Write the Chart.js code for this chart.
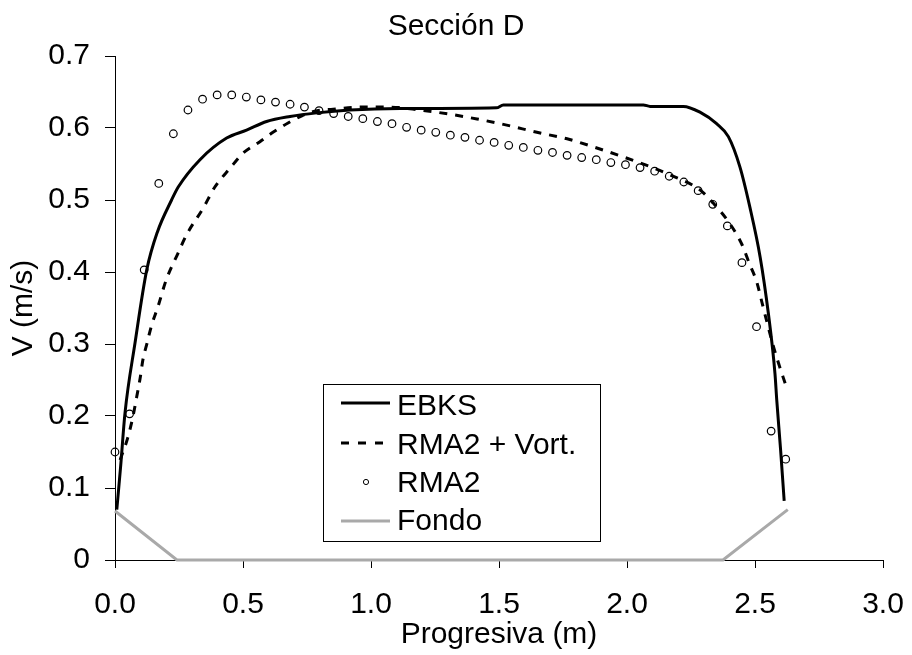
<!DOCTYPE html>
<html>
<head>
<meta charset="utf-8">
<script src="https://cdn.jsdelivr.net/npm/chart.js@4.4.1/dist/chart.umd.min.js"></script>
<style>
  html, body { margin: 0; padding: 0; background: #ffffff; }
  #wrap { width: 912px; height: 655px; }
</style>
</head>
<body>
<div id="wrap"><canvas id="c" width="912" height="655"></canvas></div>
<script>
// ---- Data ----
const chartTitle = 'Sección D';
const xAxisTitle = 'Progresiva (m)';
const yAxisTitle = 'V (m/s)';
const seriesNames = ['EBKS', 'RMA2 + Vort.', 'RMA2', 'Fondo'];

const xTicks = [0.0, 0.5, 1.0, 1.5, 2.0, 2.5, 3.0];
const yTicks = [0, 0.1, 0.2, 0.3, 0.4, 0.5, 0.6, 0.7];

// EBKS (solid line)
const ebksX = [0.007, 0.022, 0.039, 0.078, 0.124, 0.165, 0.221, 0.247, 0.332, 0.436, 0.514, 0.592, 0.684, 0.788, 0.918, 1.113, 1.49, 1.517, 2.064, 2.09, 2.22, 2.285, 2.35, 2.396, 2.441, 2.48, 2.52, 2.552, 2.578, 2.585, 2.60, 2.614];
const ebksV = [0.070, 0.130, 0.204, 0.301, 0.403, 0.455, 0.500, 0.518, 0.556, 0.586, 0.597, 0.609, 0.616, 0.621, 0.625, 0.627, 0.628, 0.632, 0.632, 0.630, 0.630, 0.622, 0.606, 0.588, 0.546, 0.490, 0.421, 0.343, 0.259, 0.222, 0.153, 0.082];

// RMA2 + Vort. (dashed line)
const vortX = [0.02, 0.05, 0.07, 0.085, 0.098, 0.109, 0.125, 0.143, 0.168, 0.2, 0.246, 0.28, 0.345, 0.39, 0.449, 0.5, 0.566, 0.617, 0.676, 0.73, 0.789, 0.852, 0.957, 1.074, 1.19, 1.31, 1.414, 1.53, 1.648, 1.766, 1.867, 1.984, 2.10, 2.168, 2.285, 2.336, 2.40, 2.45, 2.477, 2.507, 2.527, 2.547, 2.57, 2.594, 2.62];
const vortV = [0.139, 0.17, 0.199, 0.227, 0.252, 0.278, 0.301, 0.326, 0.352, 0.389, 0.426, 0.452, 0.489, 0.518, 0.544, 0.565, 0.581, 0.594, 0.607, 0.617, 0.624, 0.626, 0.629, 0.629, 0.625, 0.619, 0.6125, 0.604, 0.594, 0.585, 0.574, 0.56, 0.545, 0.535, 0.514, 0.496, 0.468, 0.4375, 0.4125, 0.386, 0.358, 0.33, 0.299, 0.271, 0.243];

// RMA2 (hollow circles)
const rma2X = [0, 0.057, 0.114, 0.171, 0.228, 0.285, 0.342, 0.399, 0.456, 0.513, 0.570, 0.627, 0.684, 0.740, 0.797, 0.854, 0.911, 0.968, 1.025, 1.082, 1.139, 1.196, 1.253, 1.310, 1.367, 1.424, 1.481, 1.538, 1.595, 1.652, 1.709, 1.766, 1.823, 1.880, 1.937, 1.994, 2.051, 2.108, 2.165, 2.222, 2.278, 2.335, 2.392, 2.449, 2.506, 2.563, 2.620];
const rma2V = [0.150, 0.203, 0.403, 0.523, 0.592, 0.625, 0.640, 0.646, 0.646, 0.643, 0.639, 0.636, 0.633, 0.629, 0.624, 0.620, 0.616, 0.613, 0.609, 0.606, 0.601, 0.597, 0.594, 0.590, 0.587, 0.583, 0.580, 0.576, 0.573, 0.569, 0.566, 0.562, 0.559, 0.556, 0.552, 0.549, 0.545, 0.540, 0.533, 0.525, 0.513, 0.494, 0.464, 0.413, 0.324, 0.179, 0.140];

// Fondo (grey bed line)
const fondoX = [0, 0.242, 2.375, 2.628];
const fondoV = [0.068, 0, 0, 0.070];

// ---- Build chart ----
const pts = (xs, ys) => xs.map((x, i) => ({ x: x, y: ys[i] }));
const FONT = "'Liberation Sans', Arial, sans-serif";
const FS = 30;
const GREY = '#a9a9a9';

const legendPlugin = {
  id: 'boxLegend',
  afterDraw(chart) {
    const ctx = chart.ctx;
    ctx.save();
    const bx = 323.5, by = 384.5, bw = 277, bh = 157;
    ctx.fillStyle = '#ffffff';
    ctx.fillRect(bx, by, bw, bh);
    ctx.strokeStyle = '#000000';
    ctx.lineWidth = 1;
    ctx.strokeRect(bx, by, bw, bh);
    const x0 = 341, x1 = 390, tx = 397;
    const rows = [403, 443, 482, 521];
    const bases = [415, 454, 492, 530];
    // EBKS
    ctx.lineWidth = 3; ctx.strokeStyle = '#000'; ctx.setLineDash([]);
    ctx.beginPath(); ctx.moveTo(x0, rows[0]); ctx.lineTo(x1, rows[0]); ctx.stroke();
    // RMA2 + Vort.
    ctx.setLineDash([8, 9]);
    ctx.beginPath(); ctx.moveTo(x0, rows[1]); ctx.lineTo(x1 + 1, rows[1]); ctx.stroke();
    ctx.setLineDash([]);
    // RMA2
    ctx.lineWidth = 1;
    ctx.beginPath(); ctx.arc(366, rows[2], 2.6, 0, Math.PI * 2); ctx.stroke();
    // Fondo
    ctx.lineWidth = 3; ctx.strokeStyle = GREY;
    ctx.beginPath(); ctx.moveTo(x0, rows[3]); ctx.lineTo(x1, rows[3]); ctx.stroke();
    // texts
    ctx.fillStyle = '#000';
    ctx.font = FS + 'px ' + FONT;
    ctx.textAlign = 'left';
    ctx.textBaseline = 'alphabetic';
    seriesNames.forEach((n, i) => ctx.fillText(n, tx, bases[i]));
    ctx.restore();
  }
};

new Chart(document.getElementById('c'), {
  type: 'scatter',
  data: {
    datasets: [
      {
        label: seriesNames[2],
        data: pts(rma2X, rma2V),
        showLine: false,
        pointStyle: 'circle',
        pointRadius: 3.8,
        pointBorderWidth: 1.2,
        pointBorderColor: '#000',
        pointBackgroundColor: 'rgba(0,0,0,0)',
        clip: false
      },
      {
        label: seriesNames[0],
        data: pts(ebksX, ebksV),
        showLine: true,
        borderColor: '#000',
        borderWidth: 3,
        pointRadius: 0,
        cubicInterpolationMode: 'monotone',
        clip: false
      },
      {
        label: seriesNames[1],
        data: pts(vortX, vortV),
        showLine: true,
        borderColor: '#000',
        borderWidth: 3,
        borderDash: [8, 8],
        pointRadius: 0,
        cubicInterpolationMode: 'monotone',
        clip: false
      },
      {
        label: seriesNames[3],
        data: pts(fondoX, fondoV),
        showLine: true,
        borderColor: GREY,
        borderWidth: 3,
        pointRadius: 0,
        tension: 0,
        clip: false
      }
    ]
  },
  options: {
    responsive: false,
    animation: false,
    devicePixelRatio: 1,
    layout: { padding: { left: 0, right: 0, top: 0, bottom: 0 } },
    plugins: {
      legend: { display: false },
      tooltip: { enabled: false },
      title: {
        display: true,
        text: chartTitle,
        color: '#000',
        font: { family: FONT, size: FS, weight: 'normal' },
        padding: { top: 9, bottom: 11 }
      }
    },
    scales: {
      x: {
        type: 'linear',
        min: xTicks[0],
        max: xTicks[xTicks.length - 1],
        afterBuildTicks: (s) => { s.ticks = xTicks.map(v => ({ value: v })); },
        afterFit: (s) => { s.height = 95; s.paddingLeft = 0; s.paddingRight = 29; },
        ticks: {
          color: '#000',
          font: { family: FONT, size: FS },
          padding: 19,
          maxRotation: 0,
          autoSkip: false,
          callback: (v) => Number(v).toFixed(1)
        },
        grid: { display: true, drawOnChartArea: false, drawTicks: true, tickLength: 8, color: '#000', lineWidth: 1 },
        border: { display: true, color: '#000', width: 1 },
        title: {
          display: true,
          text: xAxisTitle,
          color: '#000',
          font: { family: FONT, size: FS },
          padding: { top: 0, bottom: 2 }
        }
      },
      y: {
        type: 'linear',
        min: yTicks[0],
        max: yTicks[yTicks.length - 1],
        afterBuildTicks: (s) => { s.ticks = yTicks.map(v => ({ value: v })); },
        afterFit: (s) => { s.width = 115; },
        ticks: {
          color: '#000',
          font: { family: FONT, size: FS },
          padding: 15,
          autoSkip: false,
          callback: (v) => (v === 0 ? '0' : Number(v).toFixed(1))
        },
        grid: { display: true, drawOnChartArea: false, drawTicks: true, tickLength: 10, color: '#000', lineWidth: 1 },
        border: { display: true, color: '#000', width: 1 },
        title: {
          display: true,
          text: yAxisTitle,
          color: '#000',
          font: { family: FONT, size: FS },
          padding: { top: 6, bottom: 0 }
        }
      }
    }
  },
  plugins: [legendPlugin]
});
</script>
</body>
</html>
